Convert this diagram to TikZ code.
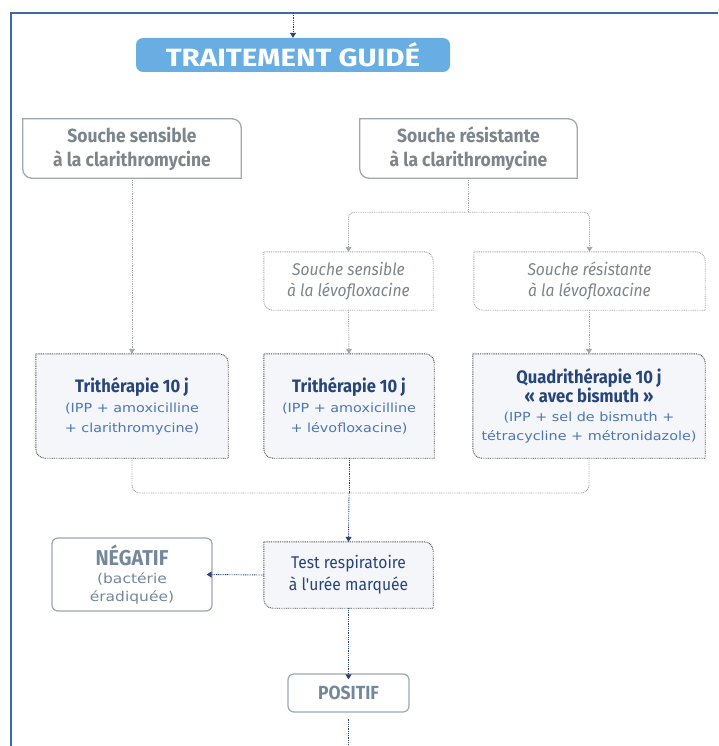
\documentclass[tikz,border=0pt]{standalone}
\usepackage{fontspec}
\setmainfont{Fira Sans}
\newfontfamily\narrowfont[FakeStretch=0.92]{Fira Sans}
\newfontfamily\widefont[FakeStretch=1.18]{Fira Sans}
\newfontfamily\roundfont[FakeStretch=1.15]{DejaVu Sans}
\usetikzlibrary{arrows.meta}
\usetikzlibrary{backgrounds}

\definecolor{frameblue}{HTML}{3D6BA7}
\definecolor{headblue}{HTML}{68AEE2}
\definecolor{greytext}{HTML}{7C848C}
\definecolor{greyline}{HTML}{A2A7AC}
\definecolor{navy}{HTML}{27457A}
\definecolor{subblue}{HTML}{4D77B3}
\definecolor{slate}{HTML}{74889B}
\definecolor{slateline}{HTML}{9AA7B4}
\definecolor{boxfill}{HTML}{F4F6FA}

\begin{document}
\begin{tikzpicture}[x=1pt, y=-1pt,
            conn/.style={line width=.9pt, dash pattern=on .9pt off .9pt},
            tip/.style={-{Triangle[width=6pt,length=5pt]}},
            stepnode/.style={inner sep=0pt, align=center},
            soucheleaf/.style={draw=greyline, line width=1.3pt, fill=white},
            levoleaf/.style={conn, draw=greyline, fill=white},
            therapyleaf/.style={conn, draw=black!70, fill=boxfill},
            resultbox/.style={stepnode, draw=slateline, line width=1.2pt, rounded corners=6pt, text=slate},
        ]
            \useasboundingbox (0,0) rectangle (718,746);

            % page frame
            \draw[frameblue, line width=2pt] (11,746) -- (11,13) -- (718,13);

            % heading
            \node[stepnode, fill=headblue, rounded corners=7pt, minimum width=314pt, minimum height=34pt,
                font=\widefont\bfseries\fontsize{25}{28}\selectfont, text=white] (guide) at (293,55) {TRAITEMENT GUIDÉ};
            \coordinate (top) at (293,13);

            % clarithromycine
            \node[stepnode, minimum width=218pt, minimum height=59pt, text=greytext,
                font=\narrowfont\bfseries\fontsize{19}{24}\selectfont] (sensC) at (132,148.5)
                {Souche sensible\\à la clarithromycine};
            \node[stepnode, minimum width=217pt, minimum height=59pt, text=greytext,
                font=\narrowfont\bfseries\fontsize{19}{24}\selectfont] (resC) at (468.5,148.5)
                {Souche résistante\\à la clarithromycine};

            % lévofloxacine
            \node[stepnode, minimum width=169pt, minimum height=58pt, text=greytext,
                font=\narrowfont\itshape\fontsize{17}{21}\selectfont] (sensL) at (348.5,281)
                {Souche sensible\\à la lévofloxacine};
            \node[stepnode, minimum width=231pt, minimum height=58pt, text=greytext,
                font=\narrowfont\itshape\fontsize{17}{21}\selectfont] (resL) at (589.5,281)
                {Souche résistante\\à la lévofloxacine};

            % the three treatments
            \node[stepnode, minimum width=192pt, minimum height=104pt, text=subblue,
                font=\roundfont\fontsize{12.5}{20}\selectfont] (tri1) at (132,406)
                {\textcolor{navy}{\narrowfont\bfseries\fontsize{18}{20}\selectfont Trithérapie 10 j}\\
                 (IPP + amoxicilline\\+ clarithromycine)};
            \node[stepnode, minimum width=170pt, minimum height=104pt, text=subblue,
                font=\roundfont\fontsize{12.5}{20}\selectfont] (tri2) at (349,406)
                {\textcolor{navy}{\narrowfont\bfseries\fontsize{18}{20}\selectfont Trithérapie 10 j}\\
                 (IPP + amoxicilline\\+ lévofloxacine)};
            \node[stepnode, minimum width=232pt, minimum height=104pt, text=subblue,
                font=\roundfont\fontsize{12.5}{19}\selectfont] (quad) at (589,406)
                {\textcolor{navy}{\narrowfont\bfseries\fontsize{18}{18}\selectfont Quadrithérapie 10 j}\\
                 \textcolor{navy}{\narrowfont\bfseries\fontsize{18}{18}\selectfont «~avec bismuth~»}\\
                 (IPP + sel de bismuth +\\tétracycline + métronidazole)};

            % control test and results
            \node[stepnode, minimum width=169pt, minimum height=66pt, text=navy,
                font=\narrowfont\fontsize{17}{22}\selectfont] (test) at (348.5,575)
                {Test respiratoire\\à l'urée marquée};
            \node[resultbox, minimum width=160pt, minimum height=73pt,
                font=\roundfont\fontsize{13.5}{18}\selectfont] (neg) at (132,574.5)
                {{\narrowfont\bfseries\fontsize{21.5}{22}\selectfont NÉGATIF}\\(bactérie\\éradiquée)};
            \node[resultbox, minimum width=121pt, minimum height=38pt,
                font=\narrowfont\bfseries\fontsize{19}{20}\selectfont] (pos) at (348.5,693) {POSITIF};
            \coordinate (out) at (348.5,746);

            % leaf shaped frames behind the text
            \begin{scope}[on background layer]
                \foreach \n/\s in {sensC/soucheleaf, resC/soucheleaf, sensL/levoleaf, resL/levoleaf,
                        tri1/therapyleaf, tri2/therapyleaf, quad/therapyleaf, test/therapyleaf}
                    \draw[\s] (\n.north west) -- ([xshift=-9pt]\n.north east)
                        arc[start angle=90, end angle=0, radius=9pt] -- (\n.south east)
                        -- ([xshift=9pt]\n.south west) arc[start angle=270, end angle=180, radius=9pt] -- cycle;
            \end{scope}

            % connectors
            \draw[conn, tip, draw=navy] (top) -- (guide);
            \draw[conn, tip, draw=greyline] (sensC) -- (tri1);
            \draw[conn, draw=greyline] (resC.south) -- ++(0,34) coordinate (split);
            \draw[conn, tip, draw=greyline, rounded corners=6pt] (split) -| (sensL.north);
            \draw[conn, tip, draw=greyline, rounded corners=6pt] (split) -| (resL.north);
            \draw[conn, tip, draw=greyline] (sensL.south) -- (tri2.north);
            \draw[conn, tip, draw=greyline] (resL.south -| quad.north) -- (quad.north);
            \coordinate (join) at (349,493);
            \draw[conn, draw=greyline, rounded corners=8pt] (tri1.south) |- (join) -| (quad.south);
            \draw[conn, draw=navy] (tri2.south) -- (join);
            \draw[conn, tip, draw=navy] (join) -- (test.north);
            \draw[conn, tip, draw=navy] (test.west) -- ([xshift=-6pt]neg.east);
            \draw[conn, tip, draw=navy] (test.south) -- ([yshift=-6pt]pos.north);
            \draw[conn, draw=navy] (pos.south) ++(0,6) -- (out);
        \end{tikzpicture}
\end{document}
